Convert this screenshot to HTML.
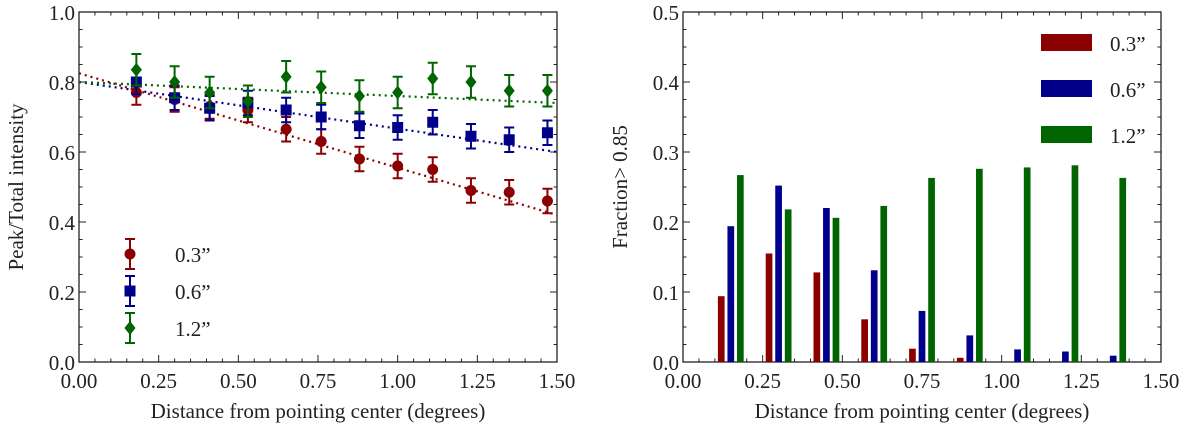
<!DOCTYPE html>
<html><head><meta charset="utf-8"><style>
body{margin:0;background:#fff;}
text{font-family:"Liberation Serif","DejaVu Serif",serif !important;fill:#222;}
</style></head><body>
<svg id="fig" width="1200" height="431" viewBox="0 0 1200 431" xmlns="http://www.w3.org/2000/svg" font-family="Liberation Serif, serif"></svg>
<script>
// Left panel data
const distX = [0.18,0.30,0.41,0.53,0.65,0.76,0.88,1.00,1.11,1.23,1.35,1.47];
const red03 = [0.77,0.75,0.73,0.72,0.665,0.63,0.58,0.56,0.55,0.49,0.485,0.46];
const blue06 = [0.80,0.755,0.725,0.74,0.72,0.70,0.675,0.67,0.685,0.645,0.635,0.655];
const green12 = [0.835,0.80,0.77,0.745,0.815,0.785,0.76,0.77,0.81,0.80,0.775,0.775];
const errRed = 0.035, errBlue = 0.035, errGreen = 0.045;
const fitRed = [0.825,0.42], fitBlue = [0.80,0.60], fitGreen = [0.80,0.74];
// Right panel data
const binCenters = [0.15,0.30,0.45,0.60,0.75,0.90,1.05,1.20,1.35];
const frac03 = [0.094,0.155,0.128,0.061,0.019,0.006,0,0,0];
const frac06 = [0.194,0.252,0.220,0.131,0.073,0.038,0.018,0.015,0.009];
const frac12 = [0.267,0.218,0.206,0.223,0.263,0.276,0.278,0.281,0.263];
const xTicks = ["0.00","0.25","0.50","0.75","1.00","1.25","1.50"];
const yTicksL = ["0.0","0.2","0.4","0.6","0.8","1.0"];
const yTicksR = ["0.0","0.1","0.2","0.3","0.4","0.5"];
const labels = ["0.3\u201D","0.6\u201D","1.2\u201D"];

const NS="http://www.w3.org/2000/svg";
const svg=document.getElementById('fig');
const FF='Liberation Serif, DejaVu Serif, serif';
function mk(tag,attrs,parent){const e=document.createElementNS(NS,tag);for(const k in attrs)e.setAttribute(k,attrs[k]);if(tag==='text')e.setAttribute('font-family',FF);(parent||svg).appendChild(e);return e;}
const RED="#8b0000",BLUE="#00008b",GREEN="#006400";
const FS=21;

function axes(name,x0,x1,y0,y1,ymax,yMinorStep,yLabels,ylabel){
  const g=mk('g',{});
  
  
  const sx=v=>x0+(x1-x0)*v/1.5, sy=v=>y0-(y0-y1)*v/ymax;
  mk('rect',{x:x0,y:y1,width:x1-x0,height:y0-y1,fill:'none',stroke:'#222','stroke-width':1.3},g);
  for(let i=0;i<=30;i++){const v=i*0.05,X=sx(v),L=(i%5==0)?7:3.5;
    mk('line',{x1:X,x2:X,y1:y0,y2:y0-L,stroke:'#222'},g);mk('line',{x1:X,x2:X,y1:y1,y2:y1+L,stroke:'#222'},g);}
  const n=Math.round(ymax/yMinorStep), major=Math.round(n/5);
  for(let i=0;i<=n;i++){const Y=sy(i*yMinorStep),L=(i%major==0)?7:3.5;
    mk('line',{x1:x0,x2:x0+L,y1:Y,y2:Y,stroke:'#222'},g);mk('line',{x1:x1,x2:x1-L,y1:Y,y2:Y,stroke:'#222'},g);}
  xTicks.forEach((t,i)=>{const e=mk('text',{x:sx(i*0.25),y:y0+26,'text-anchor':'middle','font-size':FS},g);e.textContent=t;
    });
  yLabels.forEach((t,i)=>{const e=mk('text',{x:x0-4,y:sy(i*ymax/5)+8,'text-anchor':'end','font-size':FS},g);e.textContent=t;
    });
  const xl=mk('text',{x:(x0+x1)/2,y:418,'text-anchor':'middle','font-size':FS},g);xl.textContent='Distance from pointing center (degrees)';
  
  const yl=mk('text',{x:0,y:0,'text-anchor':'middle','font-size':FS,transform:`translate(${x0-56},${(y0+y1)/2}) rotate(-90)`},g);yl.textContent=ylabel;
  
  return {sx,sy,g};
}

// LEFT
const L=axes('left-panel',79,557,362,12,1.0,0.05,yTicksL,'Peak/Total intensity');
function marker(type,cx,cy,col,p){
  if(type==0) return mk('circle',{cx,cy,r:5.5,fill:col},p);
  if(type==1) return mk('rect',{x:cx-5.5,y:cy-5.5,width:11,height:11,fill:col},p);
  return mk('polygon',{points:`${cx},${cy-7} ${cx+5.5},${cy} ${cx},${cy+7} ${cx-5.5},${cy}`,fill:col},p);
}
function errbar(cx,cy,ey,col,p){
  mk('line',{x1:cx,x2:cx,y1:cy-ey,y2:cy+ey,stroke:col,'stroke-width':2},p);
  mk('line',{x1:cx-5,x2:cx+5,y1:cy-ey,y2:cy-ey,stroke:col,'stroke-width':2},p);
  mk('line',{x1:cx-5,x2:cx+5,y1:cy+ey,y2:cy+ey,stroke:col,'stroke-width':2},p);
}
[[fitRed,RED],[fitBlue,BLUE],[fitGreen,GREEN]].forEach(([f,c],k)=>{
  const l=mk('line',{x1:L.sx(0),y1:L.sy(f[0]),x2:L.sx(1.5),y2:L.sy(f[1]),stroke:c,'stroke-width':2.2,'stroke-dasharray':'2 4'});
  
});
[[red03,errRed,RED],[blue06,errBlue,BLUE],[green12,errGreen,GREEN]].forEach(([arr,err,c],k)=>{
  const g=mk('g',{});
  arr.forEach((v,i)=>{const cx=L.sx(distX[i]),cy=L.sy(v);
    errbar(cx,cy,L.sy(0)-L.sy(err),c,g);const m=marker(k,cx,cy,c,g);
    });
});
const lg=mk('g',{});
[RED,BLUE,GREEN].forEach((c,k)=>{const y=254+k*37;errbar(130,y,15,c,lg);marker(k,130,y,c,lg);
  const t=mk('text',{x:175,y:y+8,'font-size':FS},lg);t.textContent=labels[k];
  });

// RIGHT
const R=axes('right-panel',683,1161,362,12,0.5,0.025,yTicksR,'Fraction> 0.85');
const bw=0.021;
[[frac03,RED,-0.03],[frac06,BLUE,0],[frac12,GREEN,0.03]].forEach(([arr,c,off],k)=>{
  arr.forEach((v,i)=>{if(v<=0)return;const x=R.sx(binCenters[i]+off-bw/2),w=R.sx(bw)-R.sx(0);
    const r=mk('rect',{x,y:R.sy(v),width:w,height:R.sy(0)-R.sy(v),fill:c});
    });
});
const rg=mk('g',{});
[RED,BLUE,GREEN].forEach((c,k)=>{const y=34+k*46;mk('rect',{x:1041,y,width:51,height:17,fill:c},rg);
  const t=mk('text',{x:1110,y:y+17,'font-size':FS},rg);t.textContent=labels[k];
  });
</script>
</body></html>
